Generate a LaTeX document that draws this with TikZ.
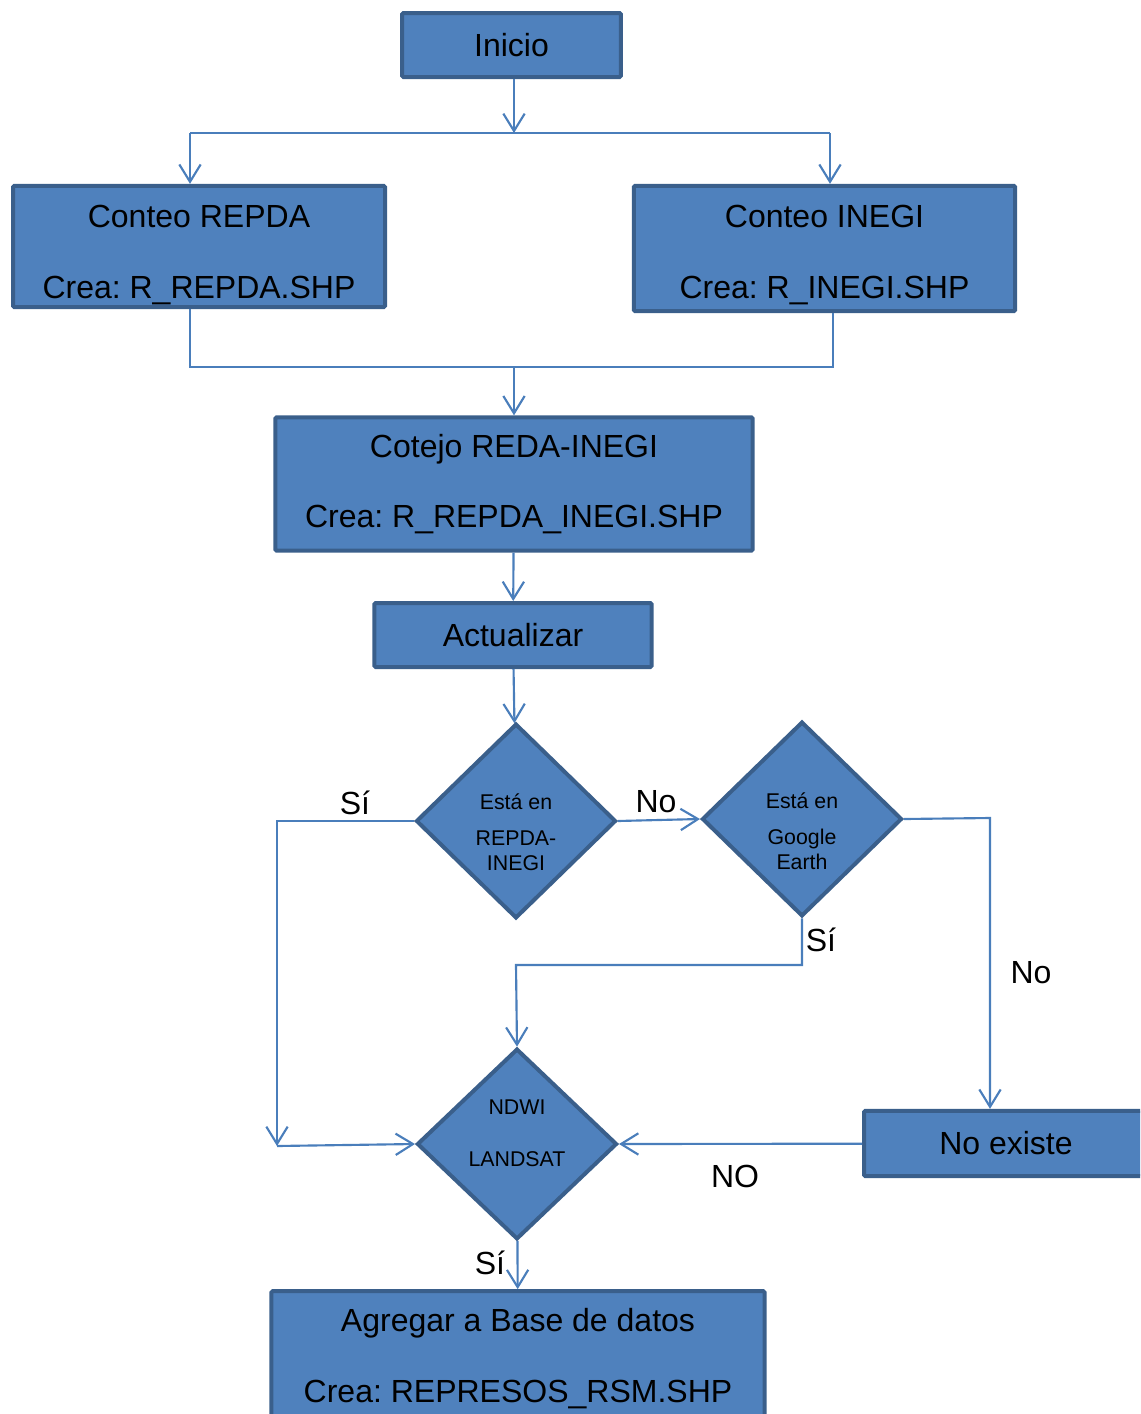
\documentclass[tikz,border=0pt]{standalone}
\usepackage{fontspec}
\setmainfont{Liberation Sans}
\usepackage{xcolor}
\usepackage{tikz}
\usetikzlibrary{shapes,arrows.meta,positioning}
\frenchspacing

\definecolor{boxfill}{HTML}{4F81BD}
\definecolor{boxedge}{HTML}{3A5F8B}
\definecolor{linea}{HTML}{4A7EBB}

\tikzset{
  proc/.style = {draw=boxedge, fill=boxfill, line width=3pt, rounded corners=1pt,
                 align=center, inner sep=0pt, font=\fontsize{24}{29}\selectfont},
  decision/.style = {diamond, draw=boxedge, fill=boxfill, line width=3pt,
                 align=center, inner sep=0pt, font=\fontsize{16}{19}\selectfont,
                 minimum width=150pt, minimum height=146pt},
  line/.style = {draw=linea, line width=1.6pt},
  tag/.style = {font=\fontsize{24}{29}\selectfont},
  >={Straight Barb[length=13pt,width=16pt,line width=1.6pt]}
}

\begin{document}
\begin{tikzpicture}[x=0.75pt, y=-0.75pt]
\useasboundingbox (0,0) rectangle (1140,1414);
\clip (0,0) rectangle (1140,1414);

% cajas
\node[proc, minimum width=164pt, minimum height=48pt] (inicio) at (511.5,45) {Inicio};
\node[proc, minimum width=279pt, minimum height=91pt] (repda) at (199,246.5)
  {\rule{0pt}{30pt}Conteo REPDA\\[24pt]Crea: R\_REPDA.SHP};
\node[proc, minimum width=286pt, minimum height=94pt] (inegi) at (824.5,248.5)
  {\rule{0pt}{27pt}Conteo INEGI\\[24pt]Crea: R\_INEGI.SHP};
\node[proc, minimum width=358pt, minimum height=100pt] (cotejo) at (514,484)
  {Cotejo REDA-INEGI\\[24pt]Crea: R\_REPDA\_INEGI.SHP};
\node[proc, minimum width=208pt, minimum height=48pt] (actualizar) at (513,635) {Actualizar};
\node[proc, minimum width=213pt, minimum height=49pt] (noexiste) at (1006,1143.5) {No existe};
\node[proc, minimum width=370pt, minimum height=101pt] (agregar) at (518,1358.5)
  {Agregar a Base de datos\\[24pt]Crea: REPRESOS\_RSM.SHP};

% decisiones
\node[decision] (d1) at (516,821) {\rule{0pt}{29pt}Está en\\[8pt]REPDA-\\INEGI};
\node[decision] (d2) at (802,819) {\rule{0pt}{30pt}Está en\\[8pt]Google\\Earth};
\node[decision, minimum height=143pt] (d3) at (517,1144)
  {NDWI\\[20pt]LANDSAT\rule[-16pt]{0pt}{16pt}};

% puntos de quiebre
\coordinate (barL) at (190,133);
\coordinate (barR) at (830,133);
\coordinate (joinL) at (190,367);
\coordinate (joinR) at (833,367);
\coordinate (siB) at (277,1146);
\coordinate (siM) at (516,965);
\coordinate (noR) at (990,818);

% conectores
\draw[line,->] (inicio.south -| 514,0) -- (514,133);
\draw[line] (barL) -- (barR);
\draw[line,->] (barL) -- (barL |- repda.north);
\draw[line,->] (barR) -- (barR |- inegi.north);
\draw[line] (joinL |- repda.south) -- (joinL) -- (joinR) -- (joinR |- inegi.south);
\draw[line,->] (joinL -| cotejo) -- (cotejo.north);
\draw[line,->] (cotejo) -- (actualizar);
\draw[line,->] (actualizar) -- (d1);
\draw[line,->] (d1.west) -- (d1.west -| siB) -- (siB);
\draw[line,->] (siB) -- (d3.west);
\draw[line,->] (d1.east) -- (d2.west);
\draw[line,->] (d2.east) -- (noR) -- (noR |- noexiste.north);
\draw[line,->] (d2.south) -- (d2.south |- siM) -- (siM) -- (d3.north);
\draw[line,->] (noexiste) -- (d3.east);
\draw[line,->] (d3) -- (agregar);

% etiquetas
\node[tag] (si1) at (355,803) {Sí};
\node[tag] (no1) at (656,802) {No};
\node[tag] (si2) at (821,940) {Sí};
\node[tag] (no2) at (1031,973) {No};
\node[tag] (no3) at (735,1176) {NO};
\node[tag] (si3) at (490,1263) {Sí};
\end{tikzpicture}
\end{document}
